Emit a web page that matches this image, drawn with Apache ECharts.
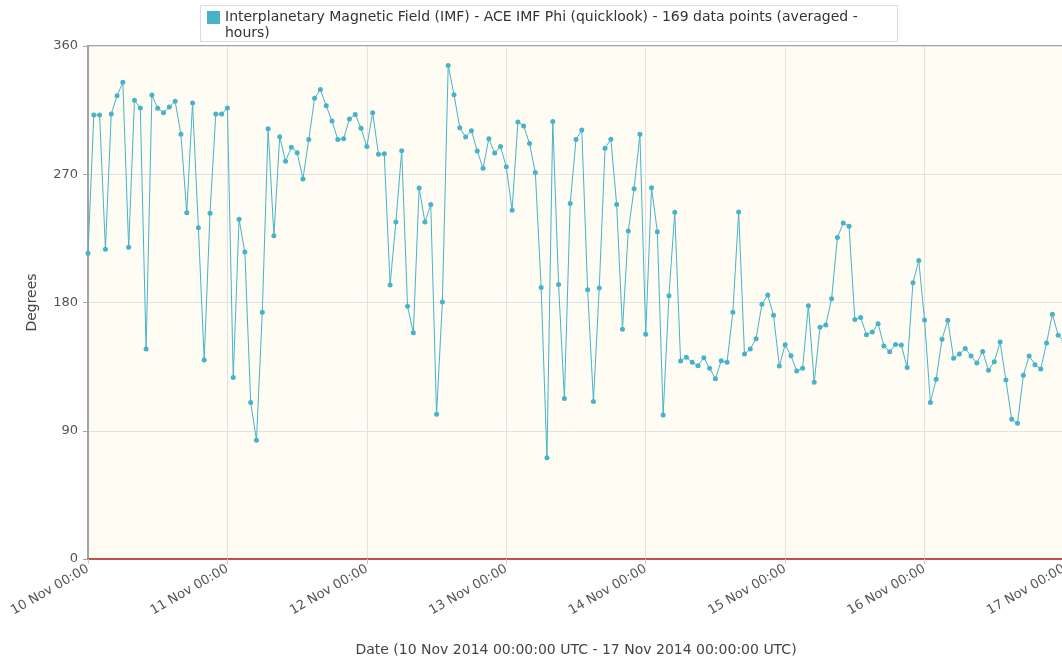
<!DOCTYPE html>
<html>
<head>
<meta charset="utf-8">
<script src="https://cdn.jsdelivr.net/npm/echarts@6/dist/echarts.min.js"></script>
<style>
  html, body { margin: 0; padding: 0; background: #fff; }
  #chart { width: 1062px; height: 661px; }
</style>
</head>
<body>
<div id="chart"></div>
<script>
  // ACE IMF Phi, hourly averages, 10 Nov 00:00 -> 17 Nov 00:00 (169 points)
  var seriesName = 'Interplanetary Magnetic Field (IMF) - ACE IMF Phi (quicklook) - 169 data points (averaged - hours)';
  var dayLabels = ['10 Nov 00:00', '11 Nov 00:00', '12 Nov 00:00', '13 Nov 00:00',
                   '14 Nov 00:00', '15 Nov 00:00', '16 Nov 00:00', '17 Nov 00:00'];
  var yTicks = [0, 90, 180, 270, 360];
  var phi = [
    214.5, 311.6, 311.6, 217.3, 312.3, 325.1, 334.5, 218.7, 321.9, 316.5, 147.4, 325.6,
    316.3, 313.2, 317.2, 321.2, 298.0, 243.0, 320.0, 232.5, 139.6, 242.6, 312.3, 312.3,
    316.5, 127.3, 238.4, 215.4, 109.9, 83.3, 173.1, 302.0, 226.9, 296.4, 279.1, 288.9,
    285.1, 266.7, 294.3, 323.3, 329.4, 318.1, 307.4, 294.3, 295.0, 308.8, 312.0, 302.2,
    289.4, 313.2, 284.0, 284.4, 192.3, 236.5, 286.5, 177.3, 158.8, 260.4, 236.5, 248.7,
    101.5, 180.4, 346.4, 325.8, 302.7, 296.1, 300.6, 286.3, 274.2, 295.0, 284.9, 289.4,
    275.3, 244.7, 306.7, 303.9, 291.5, 271.3, 190.6, 71.1, 307.1, 192.7, 112.7, 249.4,
    294.3, 301.1, 189.0, 110.6, 190.2, 288.2, 294.5, 248.7, 161.2, 230.2, 259.9, 298.0,
    157.7, 260.6, 229.7, 101.1, 184.8, 243.3, 138.9, 141.5, 138.0, 135.7, 141.3, 133.8,
    126.5, 139.2, 138.0, 173.1, 243.5, 143.9, 147.4, 154.6, 178.7, 185.3, 171.0, 135.4,
    150.4, 142.7, 131.9, 133.8, 177.8, 124.0, 162.6, 164.2, 182.7, 225.7, 235.8, 233.5,
    168.0, 169.4, 157.4, 159.3, 165.1, 149.5, 145.5, 150.6, 150.2, 134.3, 193.9, 209.4,
    167.7, 109.9, 126.1, 154.2, 167.5, 140.8, 143.9, 147.8, 142.5, 137.5, 145.7, 132.4,
    138.5, 152.3, 125.6, 98.0, 95.2, 128.9, 142.5, 136.4, 133.3, 151.6, 171.7, 157.0,
    153.0
  ];

  var font = 'DejaVu Sans';
  var lineColor = '#48b3c8';

  // x = hour offset from 10 Nov 00:00
  var points = phi.map(function (v, i) { return [i, v]; });

  var myChart = echarts.init(document.getElementById('chart'));
  myChart.setOption({
    backgroundColor: '#fff',
    animation: false,
    textStyle: { fontFamily: font },
    graphic: [{
      type: 'rect',
      left: 200,
      top: 5,
      z: 0,
      shape: { width: 697, height: 36 },
      style: { fill: '#fff', stroke: '#dcdcdc', lineWidth: 1 }
    }],
    legend: {
      left: 207,
      top: -6.5,
      padding: 0,
      icon: 'rect',
      itemWidth: 13,
      itemHeight: 13,
      data: [seriesName],
      // leading blank line so the first text line sits level with the swatch
      formatter: function (name) { return '\n' + name; },
      textStyle: {
        fontFamily: font,
        fontSize: 14,
        color: '#333',
        width: 650,
        overflow: 'break',
        lineHeight: 16
      }
    },
    grid: {
      left: 88,
      top: 46,
      width: 976,
      height: 513,
      containLabel: false,
      outerBoundsMode: 'none',
      show: true,
      backgroundColor: '#fefcf3',
      borderColor: '#a3a3a3',
      borderWidth: 2
    },
    xAxis: {
      type: 'value',
      min: 0,
      max: 168,
      interval: 24,
      name: 'Date (10 Nov 2014 00:00:00 UTC - 17 Nov 2014 00:00:00 UTC)',
      nameLocation: 'middle',
      nameGap: 84,
      nameTextStyle: { fontFamily: font, fontSize: 14, color: '#444' },
      axisLine: { lineStyle: { color: '#c0504d', width: 2 } },
      axisTick: { show: true, length: 5, lineStyle: { color: '#ccc' } },
      axisLabel: {
        rotate: 30,
        margin: 9,
        fontFamily: font,
        fontSize: 13,
        color: '#555',
        formatter: function (v) { return dayLabels[Math.round(v / 24)]; }
      },
      splitLine: { show: true, lineStyle: { color: '#e2e2e2', width: 1 } }
    },
    yAxis: {
      type: 'value',
      min: yTicks[0],
      max: yTicks[yTicks.length - 1],
      interval: 90,
      name: 'Degrees',
      nameLocation: 'middle',
      nameGap: 49,
      nameTextStyle: { fontFamily: font, fontSize: 14, color: '#444' },
      axisLine: { show: true, lineStyle: { color: '#a3a3a3', width: 2 } },
      axisTick: { show: true, length: 5, lineStyle: { color: '#a3a3a3' } },
      axisLabel: { margin: 10, fontFamily: font, fontSize: 13, color: '#555' },
      splitLine: { show: true, lineStyle: { color: '#e2e2e2', width: 1 } }
    },
    series: [{
      name: seriesName,
      type: 'line',
      data: points,
      color: lineColor,
      symbol: 'circle',
      symbolSize: 5,
      showSymbol: true,
      lineStyle: { width: 1, color: lineColor },
      itemStyle: { color: lineColor }
    }]
  });
</script>
</body>
</html>
